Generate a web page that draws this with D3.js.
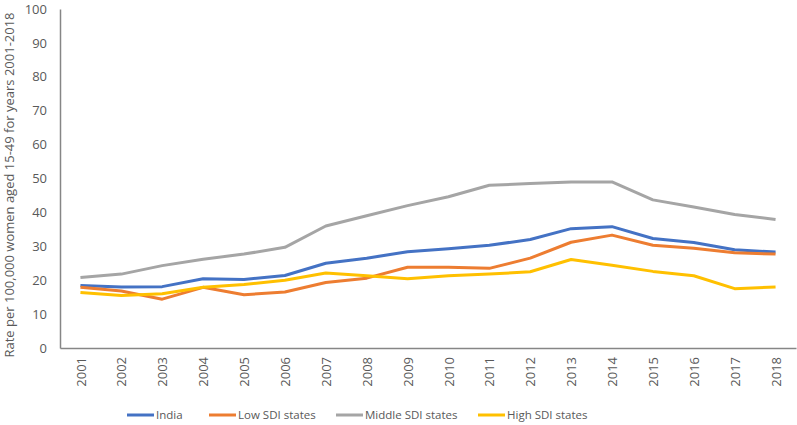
<!DOCTYPE html>
<html>
<head>
<meta charset="utf-8">
<script src="https://cdn.jsdelivr.net/npm/d3@7"></script>
<style>
  body { margin: 0; background: #fff; }
  text { font-family: "Open Sans", "Noto Sans", sans-serif; fill: #595959; }
</style>
</head>
<body>
<svg id="chart" width="797" height="425"></svg>
<script>
// ----------------------------
// Data
// ----------------------------
const years = ["2001","2002","2003","2004","2005","2006","2007","2008","2009",
               "2010","2011","2012","2013","2014","2015","2016","2017","2018"];
const india     = [18.4, 18.0, 18.1, 20.4, 20.2, 21.4, 25.0, 26.5, 28.4, 29.3, 30.3, 32.0, 35.2, 35.8, 32.3, 31.1, 29.0, 28.3];
const lowSDI    = [17.9, 16.8, 14.4, 17.9, 15.7, 16.5, 19.3, 20.6, 23.8, 23.8, 23.5, 26.5, 31.2, 33.3, 30.3, 29.4, 28.1, 27.7];
const middleSDI = [20.8, 21.8, 24.3, 26.2, 27.7, 29.7, 36.0, 39.0, 42.0, 44.6, 48.0, 48.5, 49.0, 49.0, 43.7, 41.6, 39.4, 37.9];
const highSDI   = [16.4, 15.5, 16.0, 17.9, 18.7, 20.0, 22.1, 21.3, 20.4, 21.3, 21.8, 22.5, 26.1, 24.4, 22.6, 21.3, 17.5, 18.0];
const yTicks = [0, 10, 20, 30, 40, 50, 60, 70, 80, 90, 100];

const series = [
  { name: "India", values: india, color: "#4472C4" },
  { name: "Low SDI states", values: lowSDI, color: "#ED7D31" },
  { name: "Middle SDI states", values: middleSDI, color: "#A5A5A5" },
  { name: "High SDI states", values: highSDI, color: "#FFC000" }
];

// ----------------------------
// Plotting
// ----------------------------
const svg = d3.select("#chart");
const margin = { top: 9, right: 1, bottom: 77, left: 60 };
const width = +svg.attr("width");
const height = +svg.attr("height");
const innerW = width - margin.left - margin.right;
const innerH = height - margin.top - margin.bottom;

const xScale = d3.scalePoint().domain(years).range([0, innerW]).padding(0.5);
const yScale = d3.scaleLinear().domain([0, 100]).range([innerH, 0]);

const g = svg.append("g").attr("transform", `translate(${margin.left},${margin.top})`);

// Axes
const yAxis = g.append("g").call(d3.axisLeft(yScale).tickValues(yTicks).tickSize(0).tickPadding(13));
yAxis.select(".domain").attr("stroke", "#868686").attr("stroke-width", 1.5);
yAxis.selectAll("text").style("font-size", "13px").attr("fill", "#595959");

const xAxis = g.append("g").attr("transform", `translate(0,${innerH})`)
    .call(d3.axisBottom(xScale).tickSize(0));
xAxis.select(".domain").attr("stroke", "#868686").attr("stroke-width", 1.5);
xAxis.selectAll("text")
    .style("font-size", "13px")
    .attr("fill", "#595959")
    .attr("transform", "rotate(-90)")
    .attr("text-anchor", "end")
    .attr("dx", "-9px")
    .attr("dy", "0.35em")
    .attr("y", 0)
    .attr("x", 0);

// Y axis title
svg.append("text")
    .attr("transform", `translate(14,185) rotate(-90)`)
    .attr("text-anchor", "middle")
    .style("font-size", "13px")
    .text("Rate per 100,000 women aged 15-49 for years 2001-2018");

// Lines
const lineGen = d3.line()
    .x((d, i) => xScale(years[i]))
    .y(d => yScale(d));

series.forEach(s => {
  g.append("path")
      .datum(s.values)
      .attr("fill", "none")
      .attr("stroke", s.color)
      .attr("stroke-width", 3)
      .attr("stroke-linejoin", "round")
      .attr("d", lineGen);
});

// Legend
const legendX = [127, 209, 336, 478];
const legend = svg.append("g").attr("transform", "translate(0,415)");
series.forEach((s, i) => {
  legend.append("line")
      .attr("x1", legendX[i]).attr("x2", legendX[i] + 27)
      .attr("y1", 0).attr("y2", 0)
      .attr("stroke", s.color).attr("stroke-width", 3);
  legend.append("text")
      .attr("x", legendX[i] + 29)
      .attr("y", 0)
      .attr("dy", "0.35em")
      .style("font-size", "11.5px")
      .text(s.name);
});
</script>
</body>
</html>
